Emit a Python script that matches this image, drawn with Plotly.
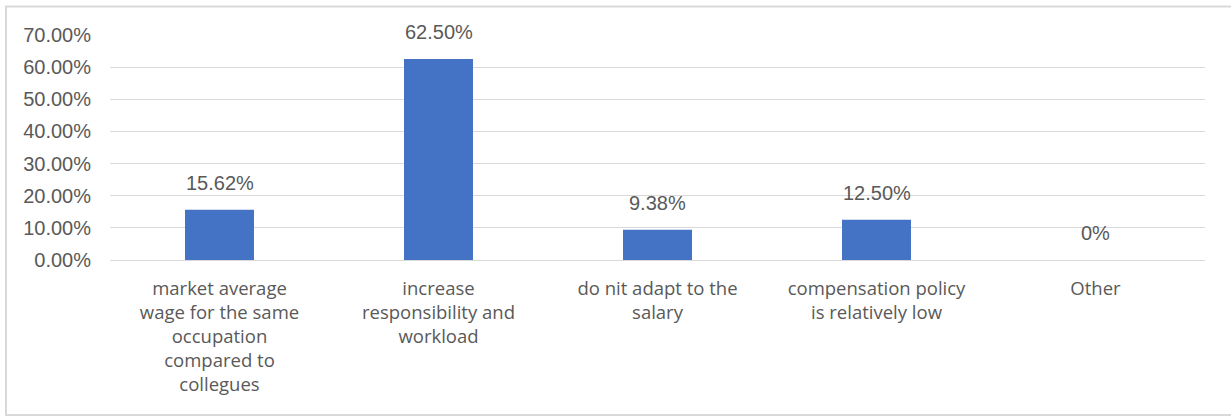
import plotly.graph_objects as go

categories = [
    "market average<br>wage for the same<br>occupation<br>compared to<br>collegues",
    "increase<br>responsibility and<br>workload",
    "do nit adapt to the<br>salary",
    "compensation policy<br>is relatively low",
    "Other",
]
shares = [0.1562, 0.6250, 0.0938, 0.1250, 0.0]
y_ticks = [0.0, 0.1, 0.2, 0.3, 0.4, 0.5, 0.6, 0.7]

TEXT = "#595959"
GRID = "#D9D9D9"
FONT = "Liberation Sans"
CAT_FONT = "Open Sans"


def pct_label(v):
    return f"{v * 100:.2f}%" if v else "0%"


fig = go.Figure(
    go.Bar(
        x=categories,
        y=shares,
        marker=dict(color="#4472C4", line=dict(width=0)),
        hoverinfo="skip",
    )
)

for cat, v in zip(categories, shares):
    fig.add_annotation(
        x=cat, y=v, text=pct_label(v), showarrow=False,
        yanchor="middle", yshift=27,
        font=dict(family=FONT, size=20, color=TEXT),
    )

# light frame around the whole chart
fig.add_shape(
    type="rect", xref="paper", yref="paper",
    x0=-0.095, x1=1.03, y0=-0.689, y1=1.127,
    line=dict(color=GRID, width=2), fillcolor="rgba(0,0,0,0)",
)

fig.update_layout(
    width=1231, height=417,
    margin=dict(l=110, r=26, t=35, b=157),
    paper_bgcolor="white", plot_bgcolor="white",
    bargap=0.685,
    showlegend=False,
    font=dict(family=FONT, size=19, color=TEXT),
    xaxis=dict(
        showgrid=False, showline=False, zeroline=False,
        tickfont=dict(family=CAT_FONT, size=18.5, color=TEXT),
        ticks="", ticklabelstandoff=15, fixedrange=True,
    ),
    yaxis=dict(
        range=[0, 0.7], tickvals=y_ticks, tickformat=".2%",
        showgrid=True, gridcolor=GRID, gridwidth=1,
        zeroline=True, zerolinecolor=GRID, zerolinewidth=1,
        showline=False, ticks="", ticklabelstandoff=18,
        tickfont=dict(family=FONT, size=20, color=TEXT),
        fixedrange=True,
    ),
)

fig.write_html("out.html")
